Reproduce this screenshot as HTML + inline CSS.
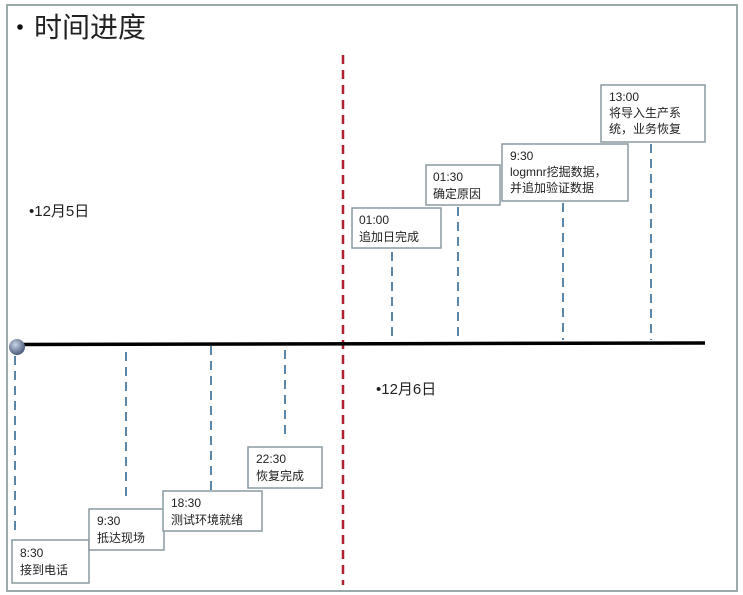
<!DOCTYPE html>
<html><head><meta charset="utf-8"><style>
html,body{margin:0;padding:0;background:#fff;}
svg{display:block;}
text{font-family:"Liberation Sans","Noto Sans CJK SC",sans-serif;fill:#222;}
</style></head><body>
<svg width="743" height="595" viewBox="0 0 743 595" xmlns="http://www.w3.org/2000/svg">
<defs>
<radialGradient id="g" cx="40%" cy="35%" r="65%">
<stop offset="0" stop-color="#c8d4e8"/><stop offset="1" stop-color="#4a5a78"/>
</radialGradient>
</defs>
<rect x="7" y="5" width="730" height="586" fill="#fff" stroke="#9aaaaa" stroke-width="2"/>
<circle cx="20" cy="27" r="2.8" fill="#111"/>
<text x="34" y="37" font-size="28" fill="#222">时间进度</text>
<text x="29" y="216" font-size="15" fill="#333">•12月5日</text>
<text x="376" y="394" font-size="15" fill="#333">•12月6日</text>
<line x1="343" y1="55" x2="343" y2="585" stroke="#b02030" stroke-width="2.5" stroke-dasharray="9,6"/>
<g stroke="#5b86a8" stroke-width="2" stroke-dasharray="9,6">
<line x1="15" y1="356" x2="15" y2="530"/>
<line x1="126" y1="352" x2="126" y2="502"/>
<line x1="211" y1="346" x2="211" y2="492"/>
<line x1="285" y1="350" x2="285" y2="438"/>
<line x1="392" y1="252" x2="392" y2="340"/>
<line x1="458" y1="207" x2="458" y2="340"/>
<line x1="563" y1="203" x2="563" y2="340"/>
<line x1="651" y1="144" x2="651" y2="340"/>
</g>
<line x1="16" y1="344.5" x2="705" y2="343" stroke="#000" stroke-width="3.5"/>
<circle cx="17" cy="347" r="8" fill="url(#g)"/>
<g fill="#fff" stroke="#8a9aa0" stroke-width="1.5">
<rect x="12" y="540" width="77" height="43"/>
<rect x="89" y="509" width="75" height="41"/>
<rect x="163" y="491" width="99" height="40"/>
<rect x="248" y="447" width="74" height="41"/>
<rect x="352" y="208" width="89" height="40"/>
<rect x="426" y="165" width="74" height="40"/>
<rect x="502" y="144" width="126" height="57"/>
<rect x="601" y="85" width="104" height="57"/>
</g>
<g font-size="12">
<text x="20" y="557">8:30</text><text x="20" y="574">接到电话</text>
<text x="97" y="525">9:30</text><text x="97" y="542">抵达现场</text>
<text x="171" y="507">18:30</text><text x="171" y="524">测试环境就绪</text>
<text x="256" y="463">22:30</text><text x="256" y="480">恢复完成</text>
<text x="359" y="224">01:00</text><text x="359" y="241">追加日完成</text>
<text x="433" y="181">01:30</text><text x="433" y="198">确定原因</text>
<text x="510" y="160">9:30</text><text x="510" y="176">logmnr挖掘数据，</text><text x="510" y="192">并追加验证数据</text>
<text x="609" y="101">13:00</text><text x="609" y="117">将导入生产系</text><text x="609" y="133">统，业务恢复</text>
</g>
</svg>
</body></html>
